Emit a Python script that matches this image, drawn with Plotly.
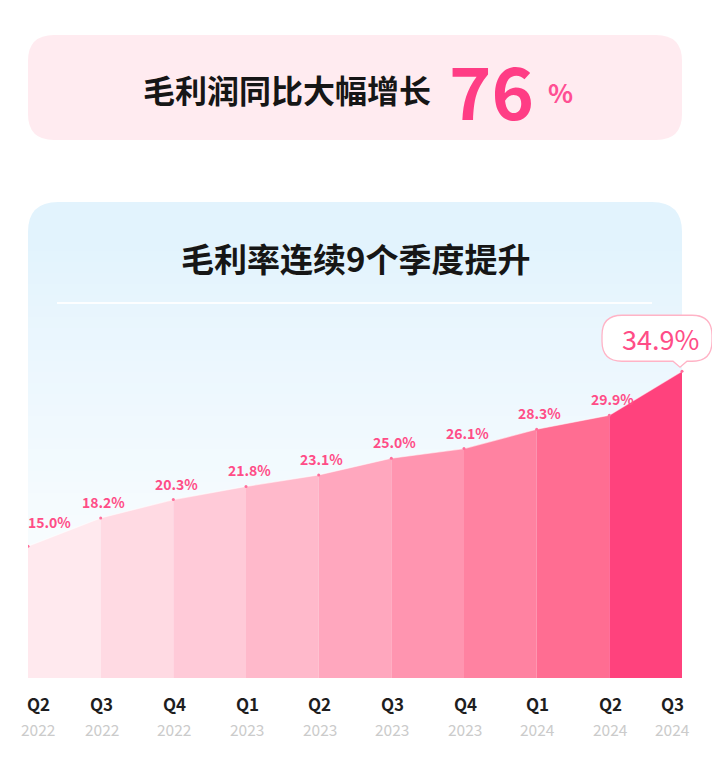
import plotly.graph_objects as go

# data
quarters = ["Q2", "Q3", "Q4", "Q1", "Q2", "Q3", "Q4", "Q1", "Q2", "Q3"]
years = ["2022", "2022", "2022", "2023", "2023", "2023", "2023", "2024", "2024", "2024"]
margin_rate = [15.0, 18.2, 20.3, 21.8, 23.1, 25.0, 26.1, 28.3, 29.9, 34.9]
headline_text = "毛利润同比大幅增长"
headline_growth = 76
chart_title = "毛利率连续9个季度提升"

# styles
seg_colors = ["#FFE9EE", "#FFDAE3", "#FFCAD8", "#FFB9CB", "#FFA7BE",
              "#FF95B0", "#FF82A1", "#FF6D92", "#FF427D"]
PINK = "#FF3D85"
LABEL_PINK = "#FF4D87"
CJK = "Noto Sans CJK SC"

# page body has an 8px margin, so the figure is drawn 8px in from the window edge
OFF = 8
W, H = 720 - OFF, 760 - 2 * OFF


def px(x):
    return (x - OFF) / W


def py(y):
    return 1 - (y - OFF) / H


def rounded_rect(x0, y0, x1, y1, r):
    # screen pixel coords -> paper path
    a, b, c, d = px(x0), py(y0), px(x1), py(y1)
    rx, ry = r / W, r / H
    return ("M {},{} L {},{} Q {},{} {},{} L {},{} Q {},{} {},{} "
            "L {},{} Q {},{} {},{} L {},{} Q {},{} {},{} Z").format(
        a + rx, b, c - rx, b, c, b, c, b - ry, c, d + ry, c, d, c - rx, d,
        a + rx, d, a, d, a, d + ry, a, b - ry, a, b, a + rx, b)


def mix(c1, c2, t):
    c1 = [int(c1[i:i + 2], 16) for i in (1, 3, 5)]
    c2 = [int(c2[i:i + 2], 16) for i in (1, 3, 5)]
    return "rgb({},{},{})".format(*[round(p + (q - p) * t) for p, q in zip(c1, c2)])


def note(x, y, text, size, color, weight='normal', **kw):
    return dict(xref='paper', yref='paper', x=px(x), y=py(y), text=text,
                showarrow=False, xanchor='center', yanchor='middle',
                font=dict(family=CJK, size=size, color=color, weight=weight), **kw)


fig = go.Figure()

n = len(margin_rate)
for i in range(n - 1):
    fig.add_trace(go.Scatter(x=[i, i + 1], y=[margin_rate[i], margin_rate[i + 1]],
                             mode='lines', fill='tozeroy', fillcolor=seg_colors[i],
                             line=dict(width=0), hoverinfo='skip', showlegend=False))
fig.add_trace(go.Scatter(x=list(range(n)), y=margin_rate, mode='lines+markers',
                         line=dict(color='rgba(255,255,255,0.55)', width=1.2),
                         marker=dict(color='#FF6E9B', size=3),
                         hoverinfo='skip', showlegend=False))

shapes = []
# top banner
shapes.append(dict(type='path', xref='paper', yref='paper', layer='below',
                   path=rounded_rect(28, 35, 682, 140, 26),
                   fillcolor='#FFEBF0', line=dict(width=0)))
# card with fading blue gradient
top_c, end_c = "#E2F3FD", "#FFFFFF"
shapes.append(dict(type='path', xref='paper', yref='paper', layer='below',
                   path=rounded_rect(28, 202, 682, 290, 30),
                   fillcolor=top_c, line=dict(width=0)))
y_start, y_end, bands = 240, 680, 40
step = (y_end - y_start) / bands
for k in range(bands):
    shapes.append(dict(type='rect', xref='paper', yref='paper', layer='below',
                       x0=px(28), x1=px(682), y0=py(y_start + k * step),
                       y1=py(y_start + (k + 1) * step + 1),
                       fillcolor=mix(top_c, end_c, (k / (bands - 1)) ** 0.85),
                       line=dict(width=0)))
# separator under the title
shapes.append(dict(type='line', xref='paper', yref='paper', layer='below',
                   x0=px(57), x1=px(652), y0=py(303), y1=py(303),
                   line=dict(color='rgba(255,255,255,0.9)', width=2)))
# callout bubble at the last point
shapes.append(dict(type='path', xref='x', yref='y', xsizemode='pixel', ysizemode='pixel',
                   xanchor=n - 1, yanchor=margin_rate[-1], layer='above',
                   path=("M -60,56 L 10,56 Q 30,56 30,36 L 30,30 Q 30,10 10,10 "
                         "L 5,10 L -2,4 L -9,10 L -60,10 Q -80,10 -80,30 L -80,36 "
                         "Q -80,56 -60,56 Z"),
                   fillcolor='white', line=dict(color='#FFB3C6', width=1.3)))

annotations = [
    note(287, 89, headline_text, 32, '#161616', 'bold'),
    note(491, 88, str(headline_growth), 72, PINK, 'bold'),
    note(560, 91, '%', 26, '#FF4F93', 'bold'),
    note(355, 258, chart_title, 33, '#161616', 'bold'),
]

for i, v in enumerate(margin_rate[:-1]):
    first = i == 0
    annotations.append(dict(x=i, y=v, xref='x', yref='y', text='{:.1f}%'.format(v),
                            showarrow=False, xanchor='left' if first else 'center',
                            yanchor='middle',
                            xshift=-2 if first else 3, yshift=24 if first else 16,
                            font=dict(family=CJK, size=14, color=LABEL_PINK, weight='bold')))
annotations.append(dict(x=n - 1, y=margin_rate[-1], xref='x', yref='y',
                        text='{:.1f}%'.format(margin_rate[-1]), showarrow=False,
                        xanchor='center', yanchor='middle', xshift=-22, yshift=33,
                        font=dict(family=CJK, size=27, color=LABEL_PINK)))

for i, (q, yr) in enumerate(zip(quarters, years)):
    shift = 10 if i == 0 else (-10 if i == n - 1 else 1)
    annotations.append(dict(x=i, xref='x', y=py(703), yref='paper', text=q,
                            showarrow=False, xshift=shift, xanchor='center', yanchor='middle',
                            font=dict(family=CJK, size=17, color='#1E1E1E', weight='bold')))
    annotations.append(dict(x=i, xref='x', y=py(729), yref='paper', text=yr,
                            showarrow=False, xshift=shift, xanchor='center', yanchor='middle',
                            font=dict(family=CJK, size=15.5, color='#CBCBCB')))

# plot area reaches a bit past the last point so the callout is not clipped
x_px0, x_px_last, x_px_end = 28, 682, 716
x_end = (n - 1) * (x_px_end - x_px0) / (x_px_last - x_px0)
y_px0, y_px_top, px_per_unit = 678, 296, 8.79
y_top = (y_px0 - y_px_top) / px_per_unit

fig.update_layout(
    width=W, height=H,
    margin=dict(l=0, r=0, t=0, b=0),
    paper_bgcolor='white', plot_bgcolor='rgba(0,0,0,0)',
    xaxis=dict(domain=[px(x_px0), px(x_px_end)], range=[0, x_end],
               visible=False, fixedrange=True),
    yaxis=dict(domain=[py(y_px0), py(y_px_top)], range=[0, y_top],
               visible=False, fixedrange=True),
    shapes=shapes, annotations=annotations, showlegend=False,
)

fig.write_html("out.html")
